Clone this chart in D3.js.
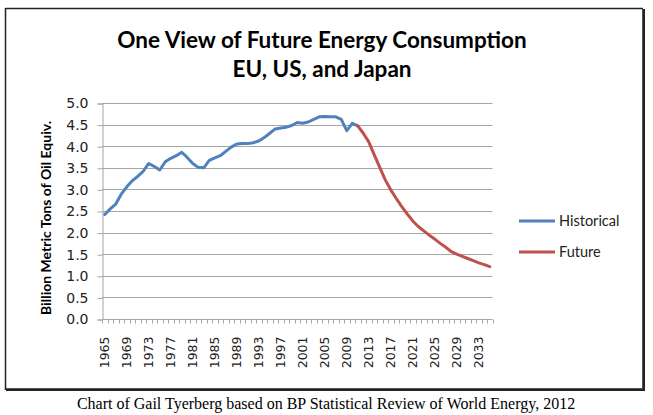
<!DOCTYPE html>
<html>
<head>
<meta charset="utf-8">
<script src="https://cdn.jsdelivr.net/npm/d3@7"></script>
<style>
  html, body { margin: 0; padding: 0; background: #fff; }
  svg { display: block; }
</style>
</head>
<body>
<svg id="chart" width="653" height="415"></svg>
<script>
// ---- Data ----
const years = d3.range(1965, 2036);
const historical = [
  2.42, 2.55, 2.66, 2.89, 3.06, 3.20, 3.30, 3.42, 3.60, 3.53,
  3.45, 3.64, 3.72, 3.78, 3.86, 3.74, 3.60, 3.51, 3.50, 3.67,
  3.73, 3.78, 3.88, 3.98, 4.05, 4.06, 4.06, 4.08, 4.12, 4.20,
  4.30, 4.40, 4.42, 4.44, 4.48, 4.55, 4.53, 4.56, 4.62, 4.68,
  4.69, 4.68, 4.68, 4.62, 4.36, 4.53, 4.47
]; // 1965-2011
const futureStart = 2011;
const future = [
  4.47, 4.30, 4.10, 3.80, 3.51, 3.22, 2.99, 2.79, 2.60, 2.43,
  2.27, 2.14, 2.04, 1.94, 1.85, 1.75, 1.66, 1.56, 1.50, 1.45,
  1.40, 1.35, 1.30, 1.26, 1.21
]; // 2011-2035
const yTicks = [0, 0.5, 1, 1.5, 2, 2.5, 3, 3.5, 4, 4.5, 5];
const xLabelYears = d3.range(1965, 2036, 4);
const seriesNames = ["Historical", "Future"];
const colors = ["#4F81BD", "#C0504D"];
const titleLines = ["One View of Future Energy Consumption", "EU, US, and Japan"];
const yTitle = "Billion Metric Tons of Oil Equiv.";
const caption = "Chart of Gail Tyerberg based on BP Statistical Review of World Energy, 2012";

// ---- Layout ----
const svg = d3.select("#chart");
const plot = { left: 102, right: 492.5, top: 103, bottom: 319 };

// Frame
svg.append("rect").attr("x", 5.5).attr("y", 8.5).attr("width", 637).attr("height", 380)
  .attr("fill", "#fff").attr("stroke", "#555").attr("stroke-width", 1);
svg.append("line").attr("x1", 644).attr("x2", 644).attr("y1", 9).attr("y2", 391)
  .attr("stroke", "#222").attr("stroke-width", 2);
svg.append("line").attr("x1", 6).attr("x2", 645).attr("y1", 390).attr("y2", 390)
  .attr("stroke", "#222").attr("stroke-width", 2);
svg.append("line").attr("x1", 5.5).attr("x2", 643).attr("y1", 8.5).attr("y2", 8.5)
  .attr("stroke", "#222").attr("stroke-width", 1.5);
svg.append("line").attr("x1", 5.5).attr("x2", 5.5).attr("y1", 8).attr("y2", 390)
  .attr("stroke", "#222").attr("stroke-width", 1.5);

// Scales
const x = d3.scaleBand().domain(years).range([plot.left, plot.right]).padding(0);
const xc = yr => x(yr) + x.bandwidth() / 2;
const y = d3.scaleLinear().domain([0, 5]).range([plot.bottom, plot.top]);

// Gridlines
svg.append("g")
  .selectAll("line").data(yTicks.filter(d => d > 0)).join("line")
  .attr("x1", plot.left).attr("x2", plot.right)
  .attr("y1", d => Math.round(y(d)) + 0.5).attr("y2", d => Math.round(y(d)) + 0.5)
  .attr("stroke", "#a6a6a6").attr("stroke-width", 1);

// Y axis
const yAxis = d3.axisLeft(y).tickValues(yTicks).tickSize(5).tickPadding(9)
  .tickFormat(d3.format(".1f"));
const gy = svg.append("g").attr("transform", `translate(${plot.left + 0.5},0.5)`).call(yAxis);
gy.select(".domain").attr("stroke", "#a6a6a6");
gy.selectAll(".tick line").attr("stroke", "#a6a6a6");
gy.selectAll(".tick text").attr("font-family", "'DejaVu Sans', sans-serif").attr("font-size", 14)
  .attr("fill", "#222");

// X axis
const gx = svg.append("g").attr("transform", `translate(0,${plot.bottom + 0.5})`);
gx.append("line").attr("x1", plot.left).attr("x2", plot.right).attr("y1", 0).attr("y2", 0)
  .attr("stroke", "#a6a6a6");
const boundaries = years.map(yr => x(yr)).concat([plot.right]);
gx.selectAll("line.tk").data(boundaries).join("line").attr("class", "tk")
  .attr("x1", d => Math.round(d) + 0.5).attr("x2", d => Math.round(d) + 0.5)
  .attr("y1", 0).attr("y2", 4).attr("stroke", "#a6a6a6");
gx.selectAll("text").data(xLabelYears).join("text")
  .attr("transform", d => `translate(${xc(d) + 4.5},${17}) rotate(-90)`)
  .attr("text-anchor", "end")
  .attr("font-family", "'DejaVu Sans', sans-serif").attr("font-size", 12.5)
  .attr("fill", "#222")
  .text(d => d);

// Lines
const line = d3.line().x(d => xc(d.year)).y(d => y(d.value)).curve(d3.curveLinear);
const histData = historical.map((v, i) => ({ year: years[i], value: v }));
const futData = future.map((v, i) => ({ year: futureStart + i, value: v }));
[histData, futData].forEach((data, i) => {
  svg.append("path").datum(data).attr("d", line)
    .attr("fill", "none").attr("stroke", colors[i]).attr("stroke-width", 3)
    .attr("stroke-linejoin", "round").attr("stroke-linecap", "round");
});

// Title
svg.append("g").selectAll("text").data(titleLines).join("text")
  .attr("x", 322).attr("y", (d, i) => 48 + i * 29)
  .attr("text-anchor", "middle")
  .attr("font-family", "Lato, sans-serif").attr("font-weight", "bold").attr("font-size", 22.5)
  .attr("fill", "#000").text(d => d);

// Y title
svg.append("text")
  .attr("transform", `translate(51,218) rotate(-90)`)
  .attr("text-anchor", "middle")
  .attr("font-family", "Lato, sans-serif").attr("font-weight", "bold").attr("font-size", 14)
  .attr("fill", "#000").text(yTitle);

// Legend
const lg = svg.append("g");
seriesNames.forEach((name, i) => {
  const ly = 221 + i * 31;
  lg.append("line").attr("x1", 519).attr("x2", 555).attr("y1", ly).attr("y2", ly)
    .attr("stroke", colors[i]).attr("stroke-width", 3);
  lg.append("text").attr("x", 559).attr("y", ly + 5)
    .attr("font-family", "Lato, sans-serif").attr("font-size", 14.5).attr("fill", "#222")
    .text(name);
});

// Caption
svg.append("text").attr("x", 326).attr("y", 409).attr("text-anchor", "middle")
  .attr("font-family", "'Liberation Serif', 'Times New Roman', serif").attr("font-size", 16)
  .attr("fill", "#000").text(caption);
</script>
</body>
</html>
